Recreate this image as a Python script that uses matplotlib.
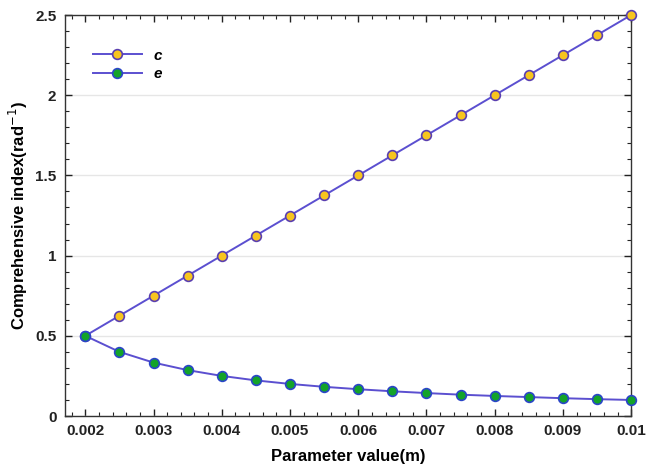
import matplotlib
matplotlib.use("Agg")
import matplotlib.pyplot as plt
from matplotlib.ticker import MultipleLocator

plt.rcParams['font.family'] = ['Liberation Sans', 'DejaVu Sans']

# data
param = [0.002, 0.0025, 0.003, 0.0035, 0.004, 0.0045, 0.005, 0.0055, 0.006,
         0.0065, 0.007, 0.0075, 0.008, 0.0085, 0.009, 0.0095, 0.01]
c_vals = [0.5, 0.625, 0.75, 0.875, 1.0, 1.125, 1.25, 1.375, 1.5,
          1.625, 1.75, 1.875, 2.0, 2.125, 2.25, 2.375, 2.5]
e_vals = [0.5, 0.4, 0.333, 0.286, 0.25, 0.222, 0.2, 0.182, 0.167,
          0.154, 0.143, 0.133, 0.125, 0.118, 0.111, 0.105, 0.1]
x_ticks = [0.002, 0.003, 0.004, 0.005, 0.006, 0.007, 0.008, 0.009, 0.01]
x_labels = ['0.002', '0.003', '0.004', '0.005', '0.006', '0.007', '0.008', '0.009', '0.01']
y_ticks = [0, 0.5, 1, 1.5, 2, 2.5]
y_labels = ['0', '0.5', '1', '1.5', '2', '2.5']

line_col = '#5b4fd0'

fig = plt.figure(figsize=(6.48, 4.69), dpi=100)
ax = fig.add_axes([0.100, 0.113, 0.874, 0.855])

ax.plot(param, c_vals, color=line_col, lw=1.4, marker='o', ms=7,
        mfc='#f7c51e', mec='#5a3fb0', mew=1.2, label='c', zorder=3, clip_on=False)
ax.plot(param, e_vals, color=line_col, lw=1.4, marker='o', ms=7,
        mfc='#13a32a', mec='#2a45c8', mew=1.2, label='e', zorder=3, clip_on=False)

ax.set_xlim(0.0017, 0.01)
ax.set_ylim(0, 2.5)
ax.set_xticks(x_ticks)
ax.set_xticklabels(x_labels)
ax.set_yticks(y_ticks)
ax.set_yticklabels(y_labels)
ax.xaxis.set_minor_locator(MultipleLocator(0.0002))
ax.yaxis.set_minor_locator(MultipleLocator(0.1))

ax.grid(axis='y', which='major', color='#e6e6e6', lw=1.0)
ax.set_axisbelow(True)

ax.tick_params(which='both', direction='in', top=True, right=True, labelsize=11,
               colors='#222222', pad=6)
ax.tick_params(which='major', length=5, width=1)
ax.tick_params(which='minor', length=3, width=0.8)
for lab in ax.get_xticklabels() + ax.get_yticklabels():
    lab.set_fontweight('bold')
for sp in ax.spines.values():
    sp.set_color('#333333')
    sp.set_linewidth(1.0)

ax.set_xlabel('Parameter value(m)', fontsize=12, fontweight='bold', labelpad=8)
ax.set_ylabel('Comprehensive index(rad$^{-1}$)', fontsize=12, fontweight='bold', labelpad=4)

leg = ax.legend(loc='upper left', bbox_to_anchor=(0.025, 0.95), frameon=False,
                handlelength=3.2, prop={'weight': 'bold', 'style': 'italic', 'size': 11},
                labelspacing=0.3)

fig.savefig('out.png', dpi=100)
